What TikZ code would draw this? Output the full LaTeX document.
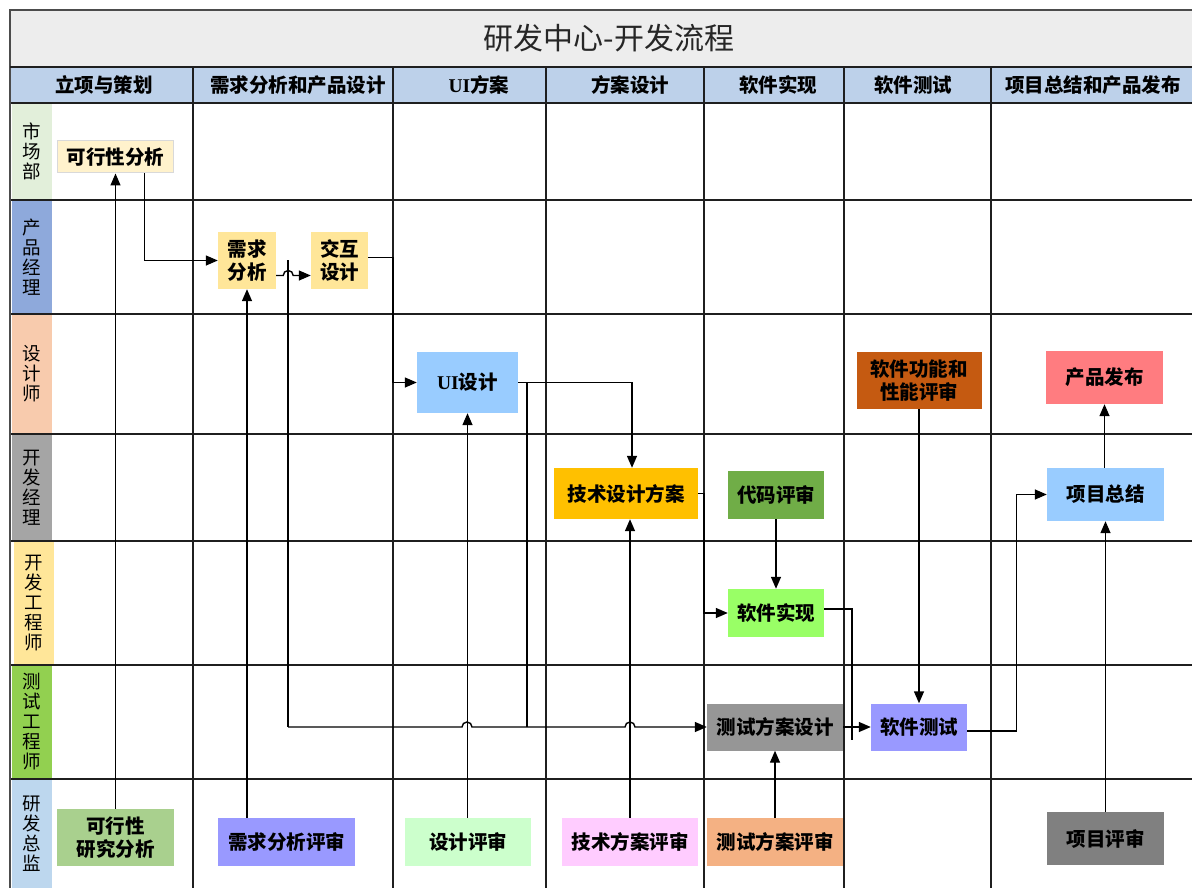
\documentclass[tikz,border=0pt]{standalone}
\usepackage{fontspec}
\setmainfont{Noto Sans CJK SC}
\newfontfamily\uifont{Liberation Serif}
\usetikzlibrary{arrows.meta, positioning}

\definecolor{titlebg}{HTML}{EDEDED}
\definecolor{headbg}{HTML}{BDD1EA}
\definecolor{gridline}{HTML}{1F1F1F}
\definecolor{laneMkt}{HTML}{E2EFDA}
\definecolor{lanePm}{HTML}{8EA9DB}
\definecolor{laneDes}{HTML}{F8CBAD}
\definecolor{laneDm}{HTML}{A5A5A5}
\definecolor{laneDev}{HTML}{FFE699}
\definecolor{laneQa}{HTML}{92D050}
\definecolor{laneDir}{HTML}{BDD7EE}

\begin{document}
\begin{tikzpicture}[
  x=1pt, y=-1pt,
  every node/.style={align=center, inner sep=0pt},
  box/.style={font=\bfseries\fontsize{19.5}{23}\selectfont},
  lane/.style={font=\fontsize{18.5}{20}\selectfont, minimum width=40},
  head/.style={font=\bfseries\fontsize{19.5}{20}\selectfont},
  grid/.style={draw=gridline, line width=1.8pt},
  line/.style={line width=1.4pt},
  arrow/.style={-{Triangle[length=12pt,width=10pt]}, line width=1.4pt}
]
\useasboundingbox (0,0) rectangle (1192,888);

% title and header bands
\fill[titlebg] (10,10) rectangle (1192,67);
\fill[headbg] (10,67) rectangle (1192,103);
\node[font=\fontsize{30}{32}\selectfont, text=black!85] (title) at (609,38) {研发中心-开发流程};

\node[head] (hStart) at (104,85) {立项与策划};
\node[head] (hReq) at (298,85) {需求分析和产品设计};
\node[head] (hUi) at (479,85) {{\uifont UI}方案};
\node[head] (hPlan) at (630,85) {方案设计};
\node[head] (hImpl) at (778,85) {软件实现};
\node[head] (hTest) at (913,85) {软件测试};
\node[head] (hRel) at (1093,85) {项目总结和产品发布};

% lanes
\node[lane, fill=laneMkt, minimum height=97] (lMkt) at (32,151.5) {市\\场\\部};
\node[lane, fill=lanePm, minimum height=114] (lPm) at (32,257) {产\\品\\经\\理};
\node[lane, fill=laneDes, minimum height=120] (lDes) at (32,374) {设\\计\\师};
\node[lane, fill=laneDm, minimum height=107] (lDm) at (32,487.5) {开\\发\\经\\理};
\node[lane, fill=laneDev, minimum height=124] (lDev) at (34,603) {开\\发\\工\\程\\师};
\node[lane, fill=laneQa, minimum height=114] (lQa) at (32,722) {测\\试\\工\\程\\师};
\node[lane, fill=laneDir, minimum height=109] (lDir) at (32,833.5) {研\\发\\总\\监};

% grid
\foreach \y in {103,200,314,434,541,665,779}
  \draw[grid] (10,\y) -- (1192,\y);
\foreach \x in {193,393,546,704,844,991}
  \draw[grid] (\x,67) -- (\x,888);
\draw[draw=black!70, line width=1.8pt] (10,888) -- (10,10) -- (1192,10);
\draw[grid] (10,67) -- (1192,67);

% tasks
\node[box, fill={rgb,255:red,255;green,242;blue,204}, draw=black!15, line width=1pt, minimum width=116, minimum height=32] (kxfx) at (115.5,157) {可行性分析};
\node[box, fill=laneDev, minimum width=58, minimum height=57] (xqfx) at (247,260.5) {需求\\分析};
\node[box, fill=laneDev, minimum width=57, minimum height=57] (jhsj) at (339.5,260.5) {交互\\设计};
\node[box, fill={rgb,255:red,153;green,204;blue,255}, minimum width=101, minimum height=61] (uisj) at (467.5,382.5) {{\uifont UI}设计};
\node[box, fill={rgb,255:red,255;green,192;blue,0}, minimum width=144, minimum height=51] (jsfa) at (626,493.5) {技术设计方案};
\node[box, fill={rgb,255:red,112;green,173;blue,71}, minimum width=96, minimum height=48] (dmps) at (776,495) {代码评审};
\node[box, fill={rgb,255:red,153;green,255;blue,102}, minimum width=96, minimum height=48] (rjsx) at (776,613) {软件实现};
\node[box, fill={rgb,255:red,150;green,150;blue,150}, minimum width=136, minimum height=47] (csfa) at (775,727) {测试方案设计};
\node[box, fill={rgb,255:red,153;green,153;blue,255}, minimum width=96, minimum height=47] (rjcs) at (919,727) {软件测试};
\node[box, fill={rgb,255:red,197;green,90;blue,17}, minimum width=125, minimum height=57] (xnps) at (919,380.5) {软件功能和\\性能评审};
\node[box, fill={rgb,255:red,255;green,124;blue,128}, minimum width=117, minimum height=53] (cpfb) at (1104.5,377.5) {产品发布};
\node[box, fill={rgb,255:red,153;green,204;blue,255}, minimum width=117, minimum height=53] (xmzj) at (1105.5,494.5) {项目总结};
\node[box, fill={rgb,255:red,128;green,128;blue,128}, minimum width=117, minimum height=53] (xmps) at (1105.5,838.5) {项目评审};

% reviews
\node[box, fill={rgb,255:red,169;green,208;blue,142}, minimum width=117, minimum height=57] (yjfx) at (115.5,837.5) {可行性\\研究分析};
\node[box, fill={rgb,255:red,153;green,153;blue,255}, minimum width=137, minimum height=48] (xqps) at (286.5,842) {需求分析评审};
\node[box, fill={rgb,255:red,204;green,255;blue,204}, minimum width=126, minimum height=48] (sjps) at (468,842) {设计评审};
\node[box, fill={rgb,255:red,255;green,204;blue,255}, minimum width=136, minimum height=48] (jsps) at (630,842) {技术方案评审};
\node[box, fill={rgb,255:red,244;green,177;blue,131}, minimum width=136, minimum height=48] (csps) at (775,842) {测试方案评审};

% turning points
\coordinate (xqdown) at (288,260);
\coordinate (hop1) at (462,727);
\coordinate (hop2) at (625,727);
\coordinate (uiin) at (393,382.5);
\coordinate (uiturn) at (527,382.5);
\coordinate (rjin) at (704,613);
\coordinate (rjend) at (852,740);

% connectors
\draw[arrow] (yjfx.north) -- (kxfx.south);
\draw[arrow] ([xshift=29]kxfx.south) |- (xqfx.west);
\draw[arrow] (xqps.north -| xqfx.south) -- (xqfx.south);
\draw[line] (xqdown) -- (xqdown |- hop1);
\draw[arrow] ([yshift=-15]xqfx.east) -- ++(7,0) arc (180:360:5) -- ([yshift=-15]jhsj.west);
\draw[arrow] ([yshift=3]jhsj.east) -| (uiin) -- (uisj.west);
\draw[arrow] (xqdown |- hop1) -- (hop1) arc (180:360:5) -- (hop2) arc (180:360:5) -- (csfa.west);
\draw[arrow] (sjps.north -| uisj.south) -- (uisj.south);
\draw[arrow] (uisj.east) -| ([xshift=6]jsfa.north);
\draw[line] (uiturn) -- (uiturn |- csfa.west);
\draw[arrow] (jsps.north) -- (jsps.north |- jsfa.south);
\draw[arrow] (jsfa.east) -| (rjin) -- (rjsx.west);
\draw[arrow] (dmps.south) -- (rjsx.north);
\draw[line] ([yshift=4]rjsx.east) -| (rjend);
\draw[arrow] (csfa.east) -- (rjcs.west);
\draw[arrow] (csps.north) -- (csfa.south);
\draw[arrow] (xnps.south) -- (rjcs.north);
\draw[arrow] ([yshift=-4]rjcs.east) -- ++(49,0) |- (xmzj.west);
\draw[arrow] (xmps.north) -- (xmzj.south);
\draw[arrow] (xmzj.north -| cpfb.south) -- (cpfb.south);
\end{tikzpicture}
\end{document}
